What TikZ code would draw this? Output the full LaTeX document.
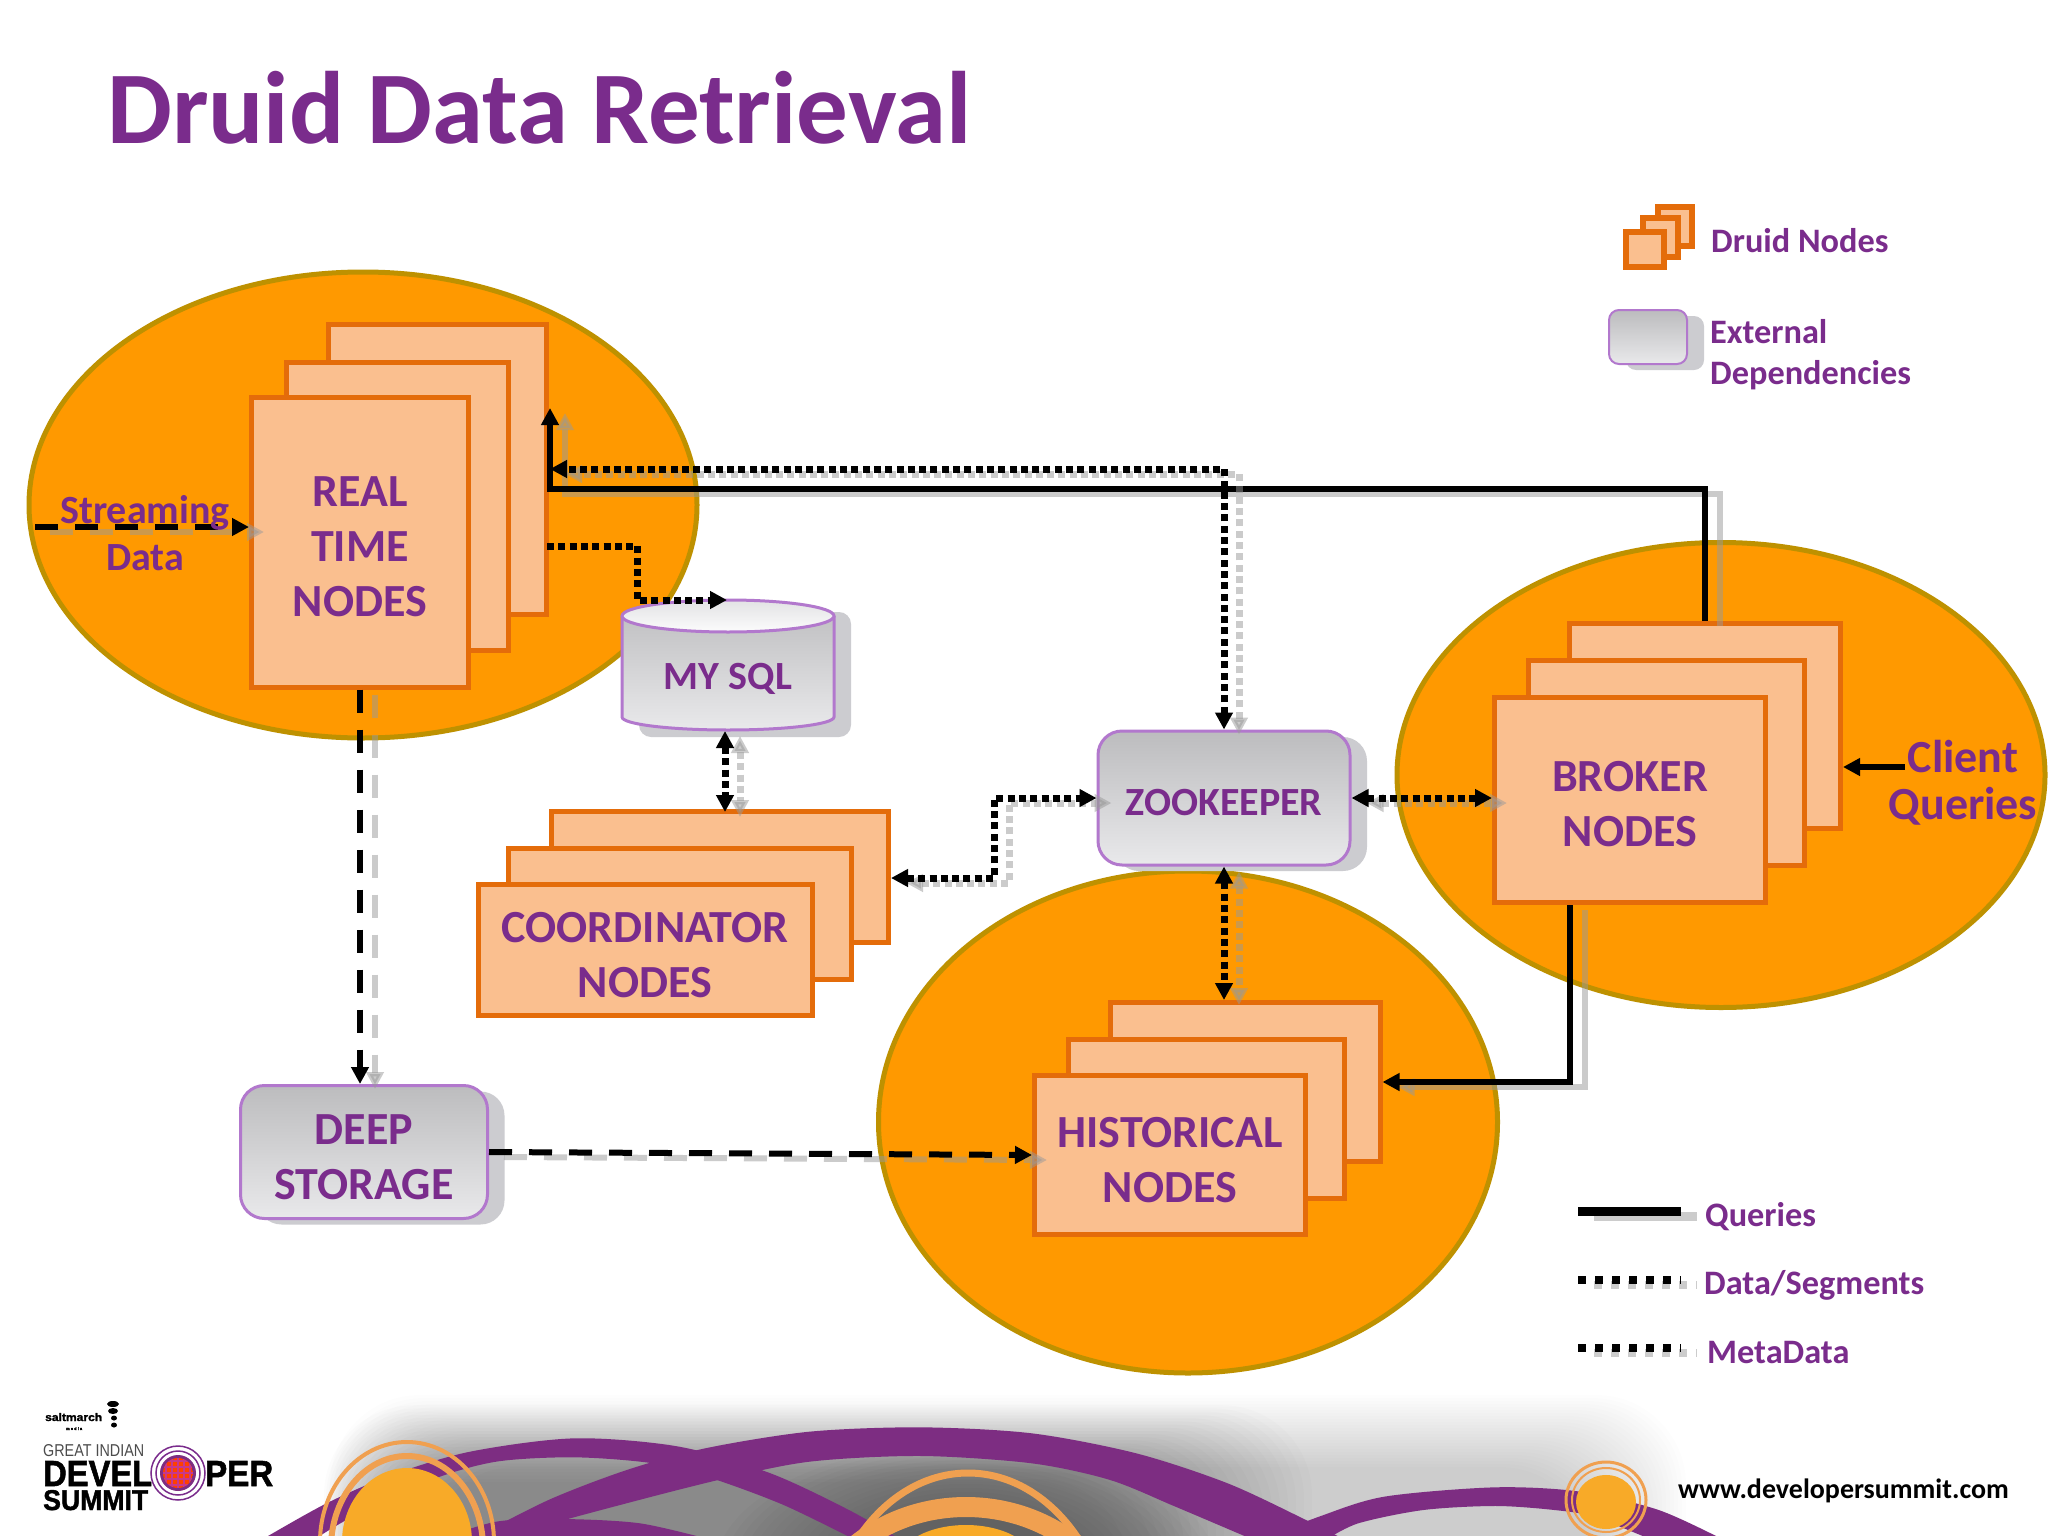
\documentclass[tikz,border=0pt]{standalone}
\usepackage{fontspec}
\setmainfont{Carlito}
\newfontfamily\logof[BoldFeatures={FakeBold=1.5}]{Liberation Sans}
\usetikzlibrary{arrows.meta,shadows,calc,shapes.geometric}
\definecolor{ttl}{RGB}{122,44,140}
\definecolor{orgfill}{RGB}{255,153,0}
\definecolor{orgline}{RGB}{190,145,0}
\definecolor{rectfill}{RGB}{250,191,143}
\definecolor{rectline}{RGB}{228,108,10}
\definecolor{extline}{RGB}{178,120,205}
\definecolor{shd}{RGB}{204,204,208}
\definecolor{extA}{RGB}{188,188,190}
\definecolor{extB}{RGB}{233,233,235}
\definecolor{ringc}{RGB}{240,160,80}
\definecolor{corec}{RGB}{248,170,40}
\definecolor{purp}{RGB}{125,45,130}
\newcommand{\tup}[1]{\rule{0pt}{#1pt}}
\tikzset{
  x=1pt,y=-1pt,
  blob/.style={ellipse,draw=orgline,line width=5pt,fill=orgfill,inner sep=0pt},
  stackbox/.style={rectangle,draw=rectline,line width=5pt,fill=rectfill,inner sep=0pt,align=center,text=ttl,font=\bfseries\fontsize{46}{55}\selectfont},
  extbox/.style={rectangle,rounded corners=24pt,draw=extline,line width=3pt,top color=extA,bottom color=extB,inner sep=0pt,align=center,text=ttl,
    general shadow={shadow xshift=17pt,shadow yshift=-6pt,fill=shd},font=\bfseries\fontsize{46}{55}\selectfont},
  lbl/.style={inner sep=0pt,anchor=base west,text=ttl,font=\bfseries\fontsize{34.3}{41}\selectfont,align=left},
  free/.style={inner sep=0pt,anchor=base,text=ttl,align=center},
  tipb/.style={-{Triangle[length=17pt,width=17pt]}},
  tipbb/.style={{Triangle[length=17pt,width=17pt]}-{Triangle[length=17pt,width=17pt]}},
  solid line/.style={line width=5.5pt},
  dot line/.style={line width=7pt,dash pattern=on 7pt off 4.3pt},
  dash line/.style={line width=6pt,dash pattern=on 23pt off 17pt},
  shade line/.style={draw=black!40,opacity=.5,transform canvas={xshift=15pt,yshift=-5pt}},
  core/.style={draw=none,fill=corec},
  ring/.style={draw=ringc,fill=none},
  ribbon/.style={fill=purp,draw=none},
  minibox/.style={rectangle,draw=rectline,line width=6pt,fill=rectfill,inner sep=0pt},
}
\newcommand{\conn}[2]{\draw[#1,shade line] #2; \draw[#1,black] #2;}
\begin{document}
\begin{tikzpicture}
\useasboundingbox (0,0) rectangle (2048,1536);
\fill[white] (0,0) rectangle (2048,1536);
\begin{scope}
\clip (0,0) rectangle (2048,1536);
% glow
\foreach \i in {1,...,25}{
  \fill[black,opacity=.006,rounded corners=90pt] ({326+\i*4},{1392+\i*3}) rectangle ({1690-\i*4},1700);
  \fill[black,opacity=.012,rounded corners=90pt] ({322+\i*2},{1402+\i*3.2}) rectangle ({1320-\i*8},1700);
}
\foreach \i in {1,...,18}{
  \fill[black,opacity=.015] (966,1570) ellipse [x radius={260-\i*9},y radius={130-\i*4}];
}
\begin{scope}[yshift=-1320pt,x=1.306pt,y=-0.3333pt]
\fill[ribbon] plot[smooth] coordinates {(200,660)(250,550)(300,465)(360,395)(440,355)(520,380)(590,460)(650,570)(690,660)}
  -- plot[smooth] coordinates {(655,660)(600,555)(545,475)(500,430)(440,412)(380,425)(330,480)(270,590)(240,660)} -- cycle;
\fill[ribbon] plot[smooth] coordinates {(360,660)(420,540)(480,450)(540,385)(620,335)(705,322)(790,340)(870,400)(940,490)(1000,600)(1030,660)}
  -- plot[smooth] coordinates {(960,660)(900,560)(850,480)(790,430)(705,408)(620,425)(550,480)(470,560)(415,620)(395,660)} -- cycle;
\fill[ribbon] plot[smooth] coordinates {(335,660)(380,605)(430,597)(490,610)(545,660)} -- cycle;
\fill[ribbon] plot[smooth] coordinates {(965,660)(1010,590)(1060,530)(1145,502)(1210,515)(1270,570)(1320,660)}
  -- plot[smooth] coordinates {(1265,660)(1220,590)(1190,570)(1145,558)(1090,570)(1040,610)(1015,660)} -- cycle;
\end{scope}
% orange rings
\fill[core] (407,1542) ellipse [x radius=65,y radius=74];
\draw[ring,line width=4pt] (407,1542) ellipse [x radius=87,y radius=100];
\draw[ring,line width=6pt] (407,1548) ellipse [x radius=76,y radius=92];
\draw[ring,line width=7pt] (968,1660) ellipse [x radius=145,y radius=187];
\draw[ring,line width=20pt] (966,1660) ellipse [x radius=167,y radius=153];
\fill[core] (966,1565) ellipse [x radius=70,y radius=40];
\fill[core] (1606,1502) ellipse [x radius=30,y radius=27];
\draw[ring,line width=3pt] (1606,1500) ellipse [x radius=40,y radius=38];
\draw[ring,line width=2pt] (1606,1500) ellipse [x radius=34,y radius=32];
\end{scope}

% blobs
\node[blob,minimum width=668pt,minimum height=466pt] (rtblob) at (363,505) {};
\node[blob,minimum width=648pt,minimum height=465pt] (bkblob) at (1721,775) {};
\node[blob,minimum width=619pt,minimum height=502pt] (hsblob) at (1188,1122) {};

% stacks
\node[stackbox,minimum width=218pt,minimum height=290pt] (rt3) at (437,469) {};
\node[stackbox,minimum width=222pt,minimum height=288pt] (rt2) at (397,506) {};
\node[stackbox,minimum width=217pt,minimum height=290pt] (rt1) at (360,542) {\tup{39}REAL\\TIME\\NODES};
\node[stackbox,minimum width=271pt,minimum height=205pt] (bk3) at (1705,726) {};
\node[stackbox,minimum width=276pt,minimum height=205pt] (bk2) at (1666,763) {};
\node[stackbox,minimum width=271pt,minimum height=205pt] (bk1) at (1630,800) {\tup{39}BROKER\\NODES};
\node[stackbox,minimum width=337pt,minimum height=131pt] (cd3) at (720,877) {};
\node[stackbox,minimum width=343pt,minimum height=131pt] (cd2) at (680,914) {};
\node[stackbox,minimum width=334pt,minimum height=131pt] (cd1) at (645,950) {\tup{41}COORDINATOR\\NODES};
\node[stackbox,minimum width=270pt,minimum height=159pt] (hs3) at (1245,1082) {};
\node[stackbox,minimum width=276pt,minimum height=159pt] (hs2) at (1206,1119) {};
\node[stackbox,minimum width=271pt,minimum height=159pt] (hs1) at (1170,1155) {\tup{40}HISTORICAL\\NODES};

% external
\node[extbox,minimum width=252pt,minimum height=134pt,font=\bfseries\fontsize{40}{50}\selectfont] (zk) at (1224,798) {\tup{35}ZOOKEEPER};
\node[extbox,minimum width=247pt,minimum height=133pt] (ds) at (364,1152) {\tup{40}DEEP\\STORAGE};
% cylinder
\fill[shd,rounded corners=12pt] (639,612) rectangle (851,737);
\shade[top color=extA,bottom color=extB] (622,616) -- (622,717) arc[start angle=180,end angle=0,x radius=106,y radius=13] -- (834,616) arc[start angle=0,end angle=-180,x radius=106,y radius=16] -- cycle;
\draw[extline,line width=3pt] (622,616) -- (622,717) arc[start angle=180,end angle=0,x radius=106,y radius=13] -- (834,616);
\draw[extline,line width=3pt,top color=extB!85!extA,bottom color=white!85!extB] (728,616) ellipse [x radius=106,y radius=16];
\node[inner sep=0pt,minimum width=212pt,minimum height=100pt,text=ttl,font=\bfseries\fontsize{40}{50}\selectfont] (sql) at (728,679) {MY SQL};

% free texts
\node[lbl,font=\bfseries\fontsize{103}{110}\selectfont] (title) at (107,144) {Druid Data Retrieval};
\node[lbl] (legdruid) at (1711,252) {Druid Nodes};
\node[lbl] (legext) at (1710,384) {External\\Dependencies};
\node[lbl] (legq) at (1705,1226) {Queries};
\node[lbl] (legd) at (1704,1294) {Data/Segments};
\node[lbl] (legm) at (1707,1363) {MetaData};

% connector helpers
\coordinate (qy) at (550,489);
\coordinate (qtip) at (550,408);
\coordinate (dy) at (550,469);
\coordinate (smA) at (547,546);
\coordinate (smB) at (637,546);
\coordinate (smC) at (637,600);
\coordinate (smD) at (727,600);
\coordinate (czA) at (994,878);
\coordinate (czB) at (994,798);
\coordinate (bhA) at (1570,1082);
\coordinate (sIn) at (35,527);
\coordinate (cIn) at (1905,767);
\coordinate (cTip) at (1843,767);
\coordinate (mcA) at (725,731);
\coordinate (mcB) at (725,812);

% connectors
\conn{solid line,tipb}{(bk3.north) -- (bk3.north |- qy) -- (qy) -- (qtip)}
\conn{dot line,tipbb}{(zk.north) -- (zk.north |- dy) -- (dy)}
\draw[dot line,tipb,black] (smA) -- (smB) -- (smC) -- (smD);
\conn{dash line,tipb}{(rt1.south) -- (rt1.south |- ds.north)}
\conn{dot line,tipbb}{(mcA) -- (mcB)}
\conn{dot line,tipbb}{(cd3.east |- czA) -- (czA) -- (czB) -- (zk.west)}
\conn{dot line,tipbb}{(zk.east) -- (zk.east -| bk1.west)}
\conn{dot line,tipbb}{(zk.south) -- (zk.south |- hs3.north)}
\conn{solid line,tipb}{(bk1.south -| bhA) -- (bhA) -- (bhA -| hs3.east)}
\conn{dash line,tipb}{(ds.east) -- (hs1.west)}
\conn{dash line,tipb}{(sIn) -- (sIn -| rt1.west)}
\draw[solid line,tipb,black] (cIn) -- (cTip);
\node[free,font=\bfseries\fontsize{40}{47}\selectfont] (stream) at (145,570) {Streaming\\Data};
\node[free,font=\bfseries\fontsize{46}{47}\selectfont] (client) at (1963,819) {Client\\Queries};

% legend
\node[minibox,minimum width=34pt,minimum height=39pt] (lg3) at (1675,226) {};
\node[minibox,minimum width=35pt,minimum height=39pt] (lg2) at (1660,237) {};
\node[minibox,minimum width=38pt,minimum height=35pt] (lg1) at (1645,249) {};
\node[rectangle,rounded corners=10pt,draw=extline,line width=2pt,top color=extA,bottom color=extB,general shadow={shadow xshift=17pt,shadow yshift=-6pt,fill=shd},minimum width=78pt,minimum height=54pt,inner sep=0] (lgx) at (1648,337) {};
\coordinate (lqA) at (1578,1211); \coordinate (lqB) at (1681,1211);
\coordinate (ldA) at (1578,1280); \coordinate (ldB) at (1681,1280);
\coordinate (lmA) at (1578,1348); \coordinate (lmB) at (1681,1348);
\draw[line width=9pt,black!20,transform canvas={xshift=16pt,yshift=-5pt}] (lqA) -- (lqB);
\draw[line width=9pt,black] (lqA) -- (lqB);
\foreach \a/\b in {ldA/ldB,lmA/lmB}{
  \draw[line width=8pt,black!20,transform canvas={xshift=16pt,yshift=-5pt},dash pattern=on 8pt off 9pt] (\a) -- (\b);
  \draw[line width=8pt,black,dash pattern=on 8pt off 9pt] (\a) -- (\b);
}

% logo
\node[inner sep=0,anchor=base west] (salt) at (45,1421) {\resizebox{57pt}{8pt}{\logof\bfseries saltmarch}};
\node[inner sep=0,anchor=base west,font=\logof\bfseries\fontsize{4}{4}\selectfont] (media) at (66,1430) {m e d i a};
\fill[black] (113,1404) ellipse [x radius=6,y radius=3];
\fill[black] (113,1411) ellipse [x radius=5,y radius=3];
\fill[black] (114,1418) ellipse [x radius=3,y radius=2.5];
\fill[black] (114,1425) ellipse [x radius=3,y radius=2.5];
\node[inner sep=0,anchor=base west,text=black!70] (great) at (43,1456) {\resizebox{101pt}{12pt}{\logof GREAT INDIAN}};
\node[inner sep=0,anchor=base west] (dev) at (43,1486) {\resizebox{109pt}{25pt}{\logof\bfseries DEVEL}};
\node[inner sep=0,anchor=base west] (per) at (205,1486) {\resizebox{68pt}{25pt}{\logof\bfseries PER}};
\node[inner sep=0,anchor=base west] (sum) at (43,1510) {\resizebox{105pt}{20pt}{\logof\bfseries SUMMIT}};
\draw[ttl,line width=1.5pt,fill=white] (178,1473) circle (27);
\draw[ttl,line width=1.5pt] (178,1473) circle (22);
\fill[purp] (178,1473) circle (18);
\begin{scope}
\clip (178,1473) circle (15);
\fill[orange!50!red] (163,1458) rectangle (193,1488);
\foreach \k in {-12,-6,0,6,12}{
  \draw[magenta!60!purp,line width=1.2pt] (178+\k,1458) -- (178+\k,1488);
  \draw[magenta!60!purp,line width=1.2pt] (163,1473+\k) -- (193,1473+\k);
}
\end{scope}
\node[inner sep=0,anchor=base west,font=\bfseries\fontsize{28}{30}\selectfont] (web) at (1678,1498) {www.developersummit.com};
\end{tikzpicture}
\end{document}
